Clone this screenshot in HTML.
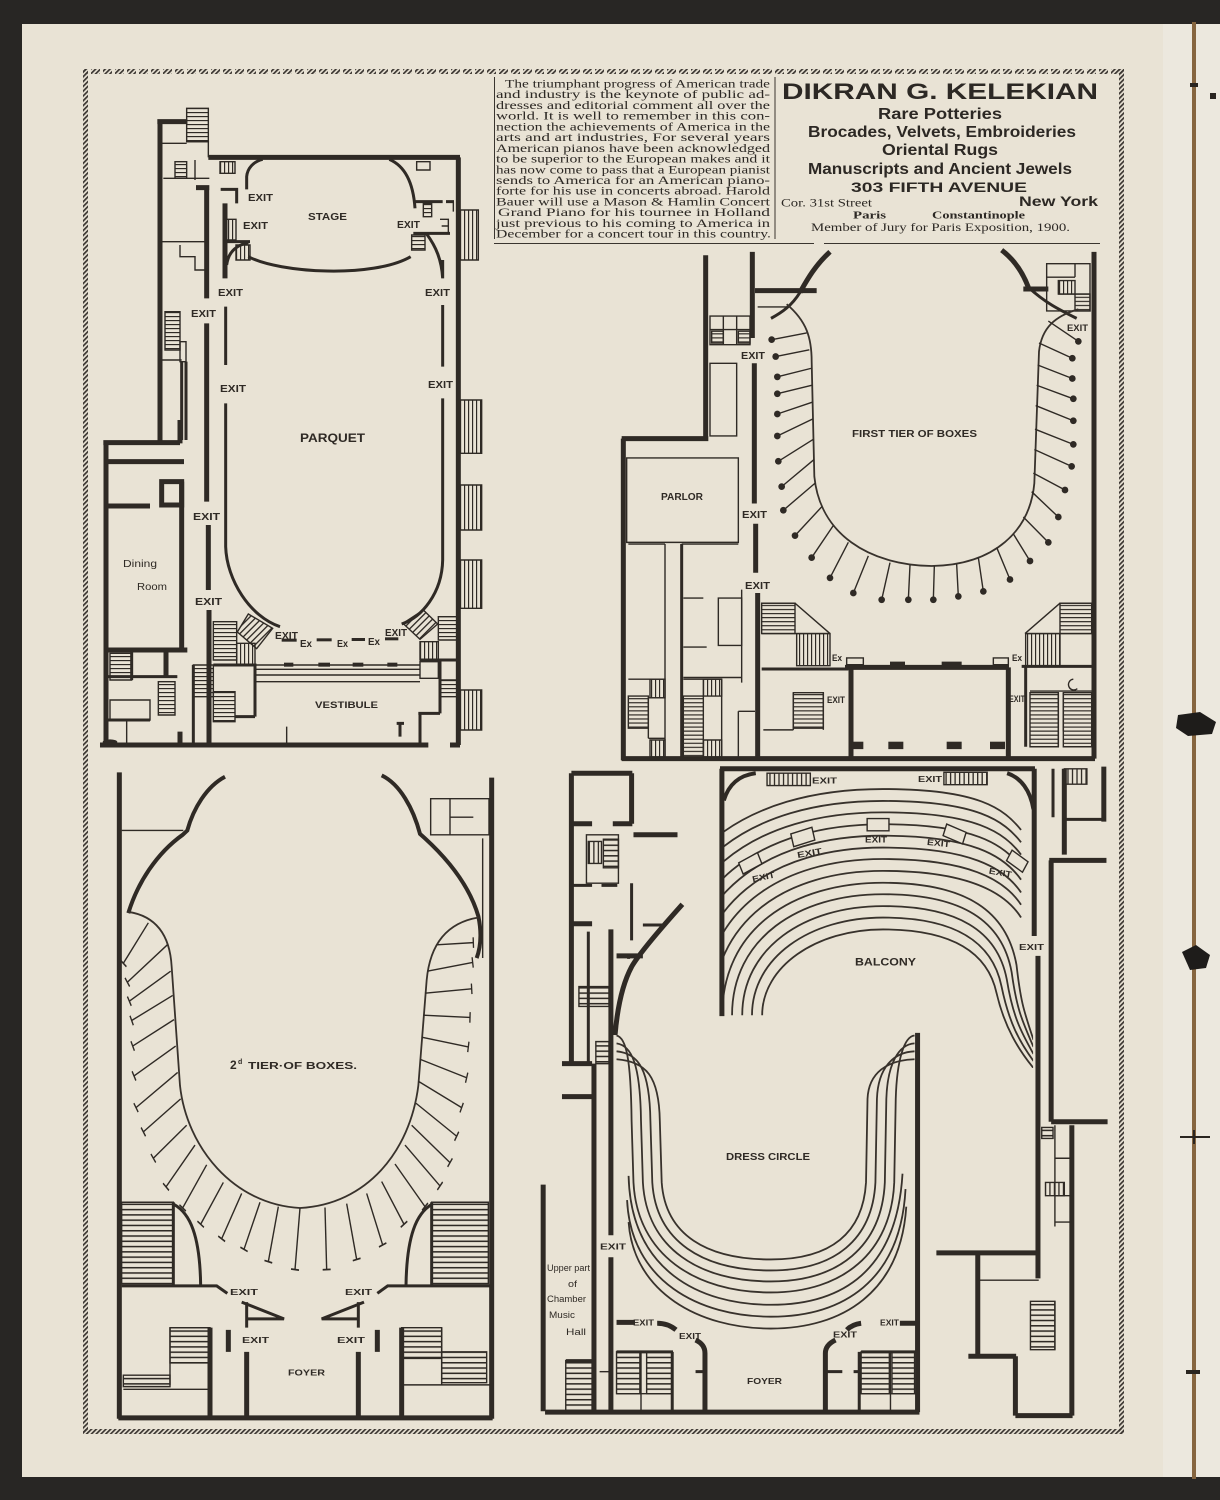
<!DOCTYPE html>
<html><head><meta charset="utf-8">
<style>
html,body{margin:0;padding:0;background:#282624;}
svg{display:block}
path,line,rect,polygon,ellipse,circle,polyline{vector-effect:non-scaling-stroke}
.t{fill:none;stroke:#2f2a25;stroke-width:5}
.m{fill:none;stroke:#2f2a25;stroke-width:3}
.n{fill:none;stroke:#2f2a25;stroke-width:1.4}
.r{fill:none;stroke:#38322c;stroke-width:1.8}
.sh{fill:url(#sh);stroke:#2f2a25;stroke-width:1.4}
.sv{fill:url(#sv);stroke:#2f2a25;stroke-width:1.4}
.sd{fill:url(#sd);stroke:#2f2a25;stroke-width:1.4}
.f{fill:#2f2a25}
.lab{font-family:"Liberation Sans",sans-serif;font-weight:bold;font-size:10.5px;fill:#2f2a25}
.sm{font-size:8.5px}
.ser{font-family:"Liberation Serif",serif;font-size:12px;fill:#2c2824}
.gb{font-family:"Liberation Sans Narrow","Liberation Sans",sans-serif;font-weight:bold;fill:#2c2824}
</style></head>
<body>
<svg width="1220" height="1500" viewBox="0 0 1220 1500" xmlns="http://www.w3.org/2000/svg">
<defs>
<pattern id="sh" width="10" height="12" patternUnits="userSpaceOnUse"><rect width="10" height="3.5" fill="#2f2a25"/></pattern>
<pattern id="sv" width="12" height="10" patternUnits="userSpaceOnUse"><rect width="3.5" height="10" fill="#2f2a25"/></pattern>
<pattern id="sd" width="14" height="14" patternUnits="userSpaceOnUse" patternTransform="rotate(45)"><rect width="4" height="14" fill="#2f2a25"/></pattern>
<pattern id="fr" width="3.4" height="3.4" patternUnits="userSpaceOnUse" patternTransform="rotate(45)"><rect width="1.7" height="3.4" fill="#3b3631"/></pattern>
<marker id="tk" markerUnits="userSpaceOnUse" markerWidth="40" markerHeight="40" viewBox="-20 -20 40 40" refX="0" refY="0" orient="auto"><path d="M0,-12 V12" stroke="#2f2a25" stroke-width="4" fill="none"/></marker>
<clipPath id="bc"><rect x="515" y="25" width="822" height="675"/></clipPath>
</defs>

<!-- page -->
<rect x="0" y="0" width="1220" height="1500" fill="#282624"/>
<rect x="22" y="24" width="1198" height="1453" fill="#e9e3d5"/>
<rect x="1163" y="24" width="57" height="1453" fill="#ece8de"/>
<rect x="1192" y="22" width="4" height="1457" fill="#86653f"/>
<path d="M1178,715 L1200,712 L1216,722 L1212,734 L1188,736 L1176,728Z" fill="#1e1c1a"/>
<path d="M1182,952 L1196,945 L1210,955 L1206,968 L1190,970Z" fill="#1e1c1a"/>
<path d="M1180,1137 H1210 M1194,1130 V1144" stroke="#2a2520" stroke-width="2"/>
<rect x="1186" y="1370" width="14" height="4" fill="#2a2520"/>
<rect x="1190" y="83" width="8" height="4" fill="#2a2520"/>
<rect x="1210" y="93" width="6" height="6" fill="#2a2520"/>

<!-- frame -->
<rect x="83" y="69" width="1041" height="5" fill="url(#fr)"/>
<line x1="88" y1="71.5" x2="1119" y2="71.5" stroke="#e9e3d5" stroke-width="6" stroke-dasharray="3 9"/>
<rect x="83" y="1429" width="1041" height="5" fill="url(#fr)"/>
<rect x="83" y="69" width="5" height="1365" fill="url(#fr)"/>
<rect x="1119" y="69" width="5" height="1365" fill="url(#fr)"/>

<!-- ad: text column -->
<line x1="494.5" y1="77" x2="494.5" y2="239" stroke="#3a352f" stroke-width="1"/>
<line x1="775" y1="77" x2="775" y2="239" stroke="#3a352f" stroke-width="1"/>
<line x1="494" y1="243.5" x2="814" y2="243.5" stroke="#3a352f" stroke-width="1"/>
<line x1="824" y1="243.5" x2="1100" y2="243.5" stroke="#3a352f" stroke-width="1"/>
<g class="ser">
<text x="505" y="87.5" textLength="265" lengthAdjust="spacingAndGlyphs">The triumphant progress of American trade</text>
<text x="496" y="98.2" textLength="274" lengthAdjust="spacingAndGlyphs">and industry is the keynote of public ad-</text>
<text x="496" y="108.9" textLength="274" lengthAdjust="spacingAndGlyphs">dresses and editorial comment all over the</text>
<text x="496" y="119.7" textLength="274" lengthAdjust="spacingAndGlyphs">world. It is well to remember in this con-</text>
<text x="496" y="130.4" textLength="274" lengthAdjust="spacingAndGlyphs">nection the achievements of America in the</text>
<text x="496" y="141.1" textLength="274" lengthAdjust="spacingAndGlyphs">arts and art industries, For several years</text>
<text x="496" y="151.8" textLength="274" lengthAdjust="spacingAndGlyphs">American pianos have been acknowledged</text>
<text x="496" y="162.5" textLength="274" lengthAdjust="spacingAndGlyphs">to be superior to the European makes and it</text>
<text x="496" y="173.3" textLength="274" lengthAdjust="spacingAndGlyphs">has now come to pass that a European pianist</text>
<text x="496" y="184.0" textLength="274" lengthAdjust="spacingAndGlyphs">sends to America for an American piano-</text>
<text x="496" y="194.7" textLength="274" lengthAdjust="spacingAndGlyphs">forte for his use in concerts abroad. Harold</text>
<text x="496" y="205.4" textLength="274" lengthAdjust="spacingAndGlyphs">Bauer will use a Mason &amp; Hamlin Concert</text>
<text x="498" y="216.1" textLength="272" lengthAdjust="spacingAndGlyphs">Grand Piano for his tournee in Holland</text>
<text x="496" y="226.9" textLength="274" lengthAdjust="spacingAndGlyphs">just previous to his coming to America in</text>
<text x="496" y="237.6" textLength="275" lengthAdjust="spacingAndGlyphs">December for a concert tour in this country.</text>
</g>
<!-- ad right -->
<text x="782" y="99" textLength="316" lengthAdjust="spacingAndGlyphs" style="font-family:'Liberation Sans',sans-serif;font-weight:bold;font-size:22px;fill:#2c2824">DIKRAN G. KELEKIAN</text>
<text class="gb" x="878" y="119" font-size="16" textLength="124" lengthAdjust="spacingAndGlyphs">Rare Potteries</text>
<text class="gb" x="808" y="137" font-size="16" textLength="268" lengthAdjust="spacingAndGlyphs">Brocades, Velvets, Embroideries</text>
<text class="gb" x="882" y="155" font-size="16" textLength="116" lengthAdjust="spacingAndGlyphs">Oriental Rugs</text>
<text class="gb" x="808" y="174" font-size="16" textLength="264" lengthAdjust="spacingAndGlyphs">Manuscripts and Ancient Jewels</text>
<text x="851" y="192" textLength="176" lengthAdjust="spacingAndGlyphs" style="font-family:'Liberation Sans',sans-serif;font-weight:bold;font-size:14px;fill:#2c2824">303 FIFTH AVENUE</text>
<text class="ser" x="781" y="206.5" textLength="91" lengthAdjust="spacingAndGlyphs">Cor. 31st Street</text>
<text x="1019" y="206" textLength="79" lengthAdjust="spacingAndGlyphs" style="font-family:'Liberation Sans',sans-serif;font-weight:bold;font-size:13.5px;fill:#2c2824">New York</text>
<text x="853" y="218.5" textLength="33" lengthAdjust="spacingAndGlyphs" style="font-family:'Liberation Serif',serif;font-weight:bold;font-size:11px;fill:#2c2824">Paris</text>
<text x="932" y="218.5" textLength="93" lengthAdjust="spacingAndGlyphs" style="font-family:'Liberation Serif',serif;font-weight:bold;font-size:11px;fill:#2c2824">Constantinople</text>
<text class="ser" x="811" y="231" font-size="11.5" textLength="259" lengthAdjust="spacingAndGlyphs">Member of Jury for Paris Exposition, 1900.</text>

<!-- ============ PLAN 1 : PARQUET ============ -->
<g transform="translate(80,60) scale(0.333333)">
<path class="t" d="M240,183 V1150 M232,185 H322 M385,292 H1140 M1135,292 V2055 M380,380 V715 M348,383 H388 M380,790 V1325 M385,1395 V1590 M387,1650 V2055 M435,430 V655 M70,1148 H300 M78,1148 V2055 M300,1080 V1150 M85,1205 H312 M305,1265 V1772 M85,1338 H210 M78,1770 H322 M258,1770 V1850 M300,2015 V2055 M60,2055 H1045 M1110,2055 H1140"/>
<rect class="t" x="245" y="1265" width="60" height="70"/>
<path class="m" d="M500,388 V350 C502,325 520,305 548,298 M928,298 C975,318 1000,370 1005,445 M505,590 C600,640 880,655 992,590 M430,545 H510 M440,615 C445,575 470,555 505,548 M422,388 H470 V430 M1005,425 H1088 M1098,425 H1122 M1000,520 H1110 M1040,522 C1068,560 1085,600 1088,655 M437,1030 V1460 C440,1560 510,1670 600,1700 M1088,1015 V1500 C1086,1600 1025,1672 965,1692 M437,740 V915 M1088,735 V920 M1088,600 V655 M400,1815 H525 V1970 M465,1970 H525 M1020,1800 H1135 M1080,1800 V1960 M1015,1960 H1080 M1020,1960 V2055 M960,1990 V2030 M950,1990 H972 M155,1770 V1860 M85,1850 H292 M85,1980 H210 M340,1815 V2055 M305,905 V1140 M318,905 V1140"/>
<path class="n" d="M240,250 H320 M250,355 H388 M345,300 V360 M240,545 H385 M300,555 V590 H345 V630 H385 M240,900 H305 M1120,425 V455 M1080,478 H1105 V518 M1085,498 H1105 M620,2000 V2055 M140,1980 V2055 M320,245 H385 V292"/>
<rect class="n" x="1010" y="305" width="40" height="25"/>
<rect class="sh" x="320" y="145" width="65" height="100"/>
<rect class="sh" x="285" y="305" width="35" height="50"/>
<rect class="sv" x="420" y="305" width="45" height="35"/>
<rect class="sh" x="255" y="755" width="45" height="115"/>
<rect class="n" x="300" y="845" width="18" height="60"/>
<rect class="sv" x="438" y="478" width="30" height="62"/>
<rect class="sv" x="468" y="555" width="42" height="45"/>
<rect class="sh" x="1030" y="430" width="25" height="40"/>
<rect class="sh" x="995" y="525" width="40" height="45"/>
<rect class="sv" x="1138" y="450" width="57" height="150"/>
<rect class="sv" x="1138" y="1020" width="67" height="160"/>
<rect class="sv" x="1140" y="1275" width="65" height="135"/>
<rect class="sv" x="1140" y="1500" width="65" height="145"/>
<rect class="sv" x="1140" y="1890" width="65" height="120"/>
<rect class="sh" x="400" y="1685" width="70" height="115"/>
<rect class="sv" x="470" y="1750" width="55" height="65"/>
<rect class="sh" x="1075" y="1670" width="60" height="70"/>
<rect class="sv" x="1020" y="1745" width="55" height="55"/>
<rect class="sh" x="400" y="1895" width="65" height="90"/>
<rect class="sh" x="340" y="1815" width="60" height="95"/>
<rect class="sh" x="1080" y="1860" width="55" height="50"/>
<rect class="n" x="1020" y="1805" width="55" height="50"/>
<rect class="sh" x="90" y="1780" width="65" height="80"/>
<rect class="sh" x="235" y="1865" width="50" height="100"/>
<rect class="n" x="90" y="1920" width="120" height="60"/>
<polygon class="sd" points="505,1662 578,1705 530,1766 472,1716"/>
<polygon class="sd" points="1030,1650 1073,1692 1020,1738 969,1690"/>
<path class="n" d="M525,1815 H1020 M525,1828 H1020 M525,1845 H1020 M525,1865 H1020"/>
<rect class="f" x="612" y="1808" width="28" height="12"/>
<rect class="f" x="715" y="1808" width="35" height="12"/>
<rect class="f" x="818" y="1808" width="32" height="12"/>
<rect class="f" x="922" y="1808" width="30" height="12"/>
<rect class="f" x="605" y="1736" width="45" height="9"/>
<rect class="f" x="710" y="1735" width="45" height="9"/>
<rect class="f" x="815" y="1734" width="40" height="9"/>
<rect class="f" x="915" y="1732" width="40" height="9"/>
<ellipse class="f" cx="90" cy="2046" rx="22" ry="8"/>
</g>
<g class="lab">
<text x="248" y="201" textLength="25" lengthAdjust="spacingAndGlyphs">EXIT</text>
<text x="243" y="229" textLength="25" lengthAdjust="spacingAndGlyphs">EXIT</text>
<text x="308" y="220" textLength="39" lengthAdjust="spacingAndGlyphs">STAGE</text>
<text x="397" y="228" textLength="23" lengthAdjust="spacingAndGlyphs">EXIT</text>
<text x="218" y="296" textLength="25" lengthAdjust="spacingAndGlyphs">EXIT</text>
<text x="425" y="296" textLength="25" lengthAdjust="spacingAndGlyphs">EXIT</text>
<text x="191" y="317" textLength="25" lengthAdjust="spacingAndGlyphs">EXIT</text>
<text x="220" y="392" textLength="26" lengthAdjust="spacingAndGlyphs">EXIT</text>
<text x="428" y="388" textLength="25" lengthAdjust="spacingAndGlyphs">EXIT</text>
<text x="300" y="442" font-size="12" textLength="65" lengthAdjust="spacingAndGlyphs">PARQUET</text>
<text x="193" y="520" textLength="27" lengthAdjust="spacingAndGlyphs">EXIT</text>
<text x="195" y="605" textLength="27" lengthAdjust="spacingAndGlyphs">EXIT</text>
<text x="275" y="639" textLength="23" lengthAdjust="spacingAndGlyphs">EXIT</text>
<text x="300" y="647" textLength="12" lengthAdjust="spacingAndGlyphs">Ex</text>
<text x="337" y="647" textLength="11" lengthAdjust="spacingAndGlyphs">Ex</text>
<text x="368" y="645" textLength="12" lengthAdjust="spacingAndGlyphs">Ex</text>
<text x="385" y="636" textLength="22" lengthAdjust="spacingAndGlyphs">EXIT</text>
<text x="315" y="708" font-size="9.5" textLength="63" lengthAdjust="spacingAndGlyphs">VESTIBULE</text>
<text x="123" y="567" font-weight="normal" textLength="34" lengthAdjust="spacingAndGlyphs">Dining</text>
<text x="137" y="590" font-weight="normal" textLength="30" lengthAdjust="spacingAndGlyphs">Room</text>
</g>

<!-- ============ PLAN 2 : FIRST TIER ============ -->
<g transform="translate(615,240) scale(0.333333,0.337838)">
<path class="t" d="M272,45 V582 M412,35 V290 M418,365 V780 M422,840 V985 M428,1045 V1530 M420,150 H605 M645,35 C600,75 575,120 555,155 M1160,30 C1200,60 1225,100 1240,140 M1225,145 H1300 M1437,35 V1535 M20,588 H280 M25,588 V1540 M20,1535 H1440 M690,1265 H1182 M708,1265 V1530 M1180,1265 V1530"/>
<path class="m" d="M555,155 C530,195 500,215 468,232 M1240,140 C1290,185 1330,205 1385,232 M440,1270 H700 M1220,1262 H1437 M1232,1262 V1500 M200,900 V1530"/>
<rect class="f" x="825" y="1248" width="45" height="17"/>
<rect class="f" x="980" y="1248" width="60" height="17"/>
<rect class="f" x="710" y="1485" width="35" height="22"/>
<rect class="f" x="820" y="1485" width="45" height="22"/>
<rect class="f" x="995" y="1485" width="45" height="22"/>
<rect class="f" x="1125" y="1485" width="45" height="22"/>
<rect class="n" x="695" y="1237" width="50" height="20"/>
<rect class="n" x="1135" y="1237" width="45" height="20"/>
<rect class="n" x="285" y="225" width="120" height="85"/>
<path class="n" d="M285,265 H405 M325,225 V310 M365,225 V310 M428,198 H520 M40,900 H150 M150,900 V1530 M200,900 H370 M205,1060 H265 M205,1205 H275 M380,1035 V1310 M205,1295 H380 M370,1395 H420 M370,1395 V1530 M40,1300 H150 M100,1355 H150 M100,1475 H150 M100,1355 V1475 M205,1300 H320 M320,1300 V1530 M440,1075 H540 L645,1165 M440,1165 H645 M1335,1075 H1435 M1335,1075 L1230,1165 M1230,1165 H1435 M445,1450 H535 M535,1340 V1450 M625,1340 V1450 M1245,1335 H1435 M1330,1340 V1500 M1345,1340 V1455 M1295,110 H1380 M1380,70 V110 M1330,160 H1425 M1375,1300 a16,16 0 1,0 12,28"/>
<rect class="n" x="285" y="365" width="80" height="215"/>
<rect class="n" x="35" y="645" width="335" height="250"/>
<rect class="n" x="310" y="1060" width="70" height="140"/>
<rect class="n" x="1295" y="70" width="130" height="140"/>
<rect class="sh" x="290" y="270" width="35" height="35"/>
<rect class="sh" x="370" y="270" width="35" height="35"/>
<rect class="sh" x="40" y="1350" width="60" height="95"/>
<rect class="sv" x="105" y="1300" width="45" height="55"/>
<rect class="sv" x="105" y="1480" width="45" height="50"/>
<rect class="sh" x="205" y="1350" width="60" height="180"/>
<rect class="sv" x="265" y="1300" width="55" height="50"/>
<rect class="sv" x="265" y="1480" width="55" height="50"/>
<rect class="sh" x="440" y="1075" width="100" height="90"/>
<rect class="sv" x="545" y="1165" width="100" height="95"/>
<rect class="sh" x="1335" y="1075" width="95" height="90"/>
<rect class="sv" x="1232" y="1165" width="103" height="95"/>
<rect class="sh" x="535" y="1340" width="90" height="105"/>
<rect class="sh" x="1245" y="1340" width="85" height="160"/>
<rect class="sh" x="1345" y="1340" width="85" height="160"/>
<rect class="sv" x="1330" y="120" width="50" height="40"/>
<rect class="sh" x="1380" y="160" width="45" height="50"/>
<path class="r" d="M515,190 C575,240 590,290 590,360 L598,700 C615,870 760,962 950,965 C1140,962 1245,860 1258,720 L1272,330 C1280,260 1320,225 1390,205"/>
<path class="n" d="M575,275 L470,295 M583,325 L482,345 M588,380 L487,405 M590,430 L487,455 M592,480 L487,515 M593,530 L487,580 M595,590 L490,655 M597,650 L500,730 M600,720 L505,800 M620,790 L540,875 M655,845 L590,940 M700,895 L645,1000 M760,935 L715,1045 M825,955 L800,1065 M885,962 L880,1065 M958,965 L955,1065 M1025,960 L1030,1055 M1090,940 L1105,1040 M1145,910 L1185,1005 M1195,870 L1245,950 M1225,820 L1300,895 M1250,745 L1330,820 M1255,690 L1350,740 M1258,620 L1370,670 M1260,560 L1375,605 M1262,490 L1375,535 M1265,430 L1375,470 M1268,370 L1372,410 M1272,305 L1372,350 M1300,240 L1390,300"/>
<g class="f">
<circle cx="470" cy="295" r="10"/><circle cx="482" cy="345" r="10"/><circle cx="487" cy="405" r="10"/><circle cx="487" cy="455" r="10"/><circle cx="487" cy="515" r="10"/><circle cx="487" cy="580" r="10"/><circle cx="490" cy="655" r="10"/><circle cx="500" cy="730" r="10"/><circle cx="505" cy="800" r="10"/><circle cx="540" cy="875" r="10"/><circle cx="590" cy="940" r="10"/><circle cx="645" cy="1000" r="10"/><circle cx="715" cy="1045" r="10"/><circle cx="800" cy="1065" r="10"/><circle cx="880" cy="1065" r="10"/><circle cx="955" cy="1065" r="10"/><circle cx="1030" cy="1055" r="10"/><circle cx="1105" cy="1040" r="10"/><circle cx="1185" cy="1005" r="10"/><circle cx="1245" cy="950" r="10"/><circle cx="1300" cy="895" r="10"/><circle cx="1330" cy="820" r="10"/><circle cx="1350" cy="740" r="10"/><circle cx="1370" cy="670" r="10"/><circle cx="1375" cy="605" r="10"/><circle cx="1375" cy="535" r="10"/><circle cx="1375" cy="470" r="10"/><circle cx="1372" cy="410" r="10"/><circle cx="1372" cy="350" r="10"/><circle cx="1390" cy="300" r="10"/>
</g>
</g>
<g class="lab">
<text x="741" y="359" textLength="24" lengthAdjust="spacingAndGlyphs">EXIT</text>
<text x="742" y="518" textLength="25" lengthAdjust="spacingAndGlyphs">EXIT</text>
<text x="745" y="589" textLength="25" lengthAdjust="spacingAndGlyphs">EXIT</text>
<text x="1067" y="331" font-size="9" textLength="21" lengthAdjust="spacingAndGlyphs">EXIT</text>
<text x="661" y="500" font-size="10" textLength="42" lengthAdjust="spacingAndGlyphs">PARLOR</text>
<text x="852" y="437" font-size="10" textLength="125" lengthAdjust="spacingAndGlyphs">FIRST  TIER  OF  BOXES</text>
<text x="832" y="661" font-size="9" textLength="10" lengthAdjust="spacingAndGlyphs">Ex</text>
<text x="1012" y="661" font-size="9" textLength="10" lengthAdjust="spacingAndGlyphs">Ex</text>
<text x="827" y="703" font-size="9" textLength="18" lengthAdjust="spacingAndGlyphs">EXIT</text>
<text x="1009" y="702" font-size="9" textLength="16" lengthAdjust="spacingAndGlyphs">EXIT</text>
</g>

<!-- ============ PLAN 3 : 2nd TIER ============ -->
<g transform="translate(90,760) scale(0.333333,0.440051)">
<path class="t" d="M88,28 V1497 M1205,40 V1497 M85,1495 H1208 M470,1345 V1495 M805,1345 V1495 M415,1295 V1345 M862,1295 V1345 M360,1290 V1495 M935,1290 V1495"/>
<path class="m" style="stroke-width:4" d="M405,38 C350,60 310,110 292,160 L278,170 C200,212 142,280 115,348 M875,35 C930,55 970,110 990,168 L1005,178 C1080,230 1140,290 1165,355 C1176,395 1172,425 1160,450"/>
<path class="m" d="M95,1195 H380 L412,1212 M1205,1195 H893 L862,1212 M455,1232 L582,1270 H470 M470,1232 V1290 M822,1232 L695,1270 H805 M805,1232 V1290 M250,1005 V1195 M252,1010 C300,1030 330,1080 332,1195 M1025,1005 V1195 M1025,1010 C980,1030 950,1080 948,1195"/>
<path class="n" d="M95,160 H280 M1080,88 V170 M1080,130 H1150 M1178,178 V450 M240,1290 H360 M240,1290 V1420 M100,1430 H360 M935,1420 H1200 M1055,1290 V1420"/>
<rect class="n" x="1022" y="88" width="175" height="82"/>
<rect class="sh" x="95" y="1005" width="155" height="185"/>
<rect class="sh" x="1025" y="1005" width="170" height="185"/>
<rect class="sh" x="240" y="1290" width="120" height="80"/>
<rect class="sh" x="100" y="1398" width="140" height="26"/>
<rect class="sh" x="935" y="1290" width="120" height="70"/>
<rect class="sh" x="1055" y="1345" width="135" height="70"/>
<path class="r" d="M115,345 C200,355 240,400 245,470 L270,740 C290,880 430,1010 630,1018 C830,1010 960,890 985,740 L1010,500 C1020,420 1070,370 1165,358"/>
<g class="n" marker-end="url(#tk)">
<path d="M175,370 L100,462"/><path d="M232,420 L112,505"/><path d="M242,480 L118,548"/><path d="M248,535 L125,592"/><path d="M252,590 L128,650"/><path d="M257,650 L132,718"/><path d="M263,710 L138,790"/><path d="M272,770 L160,845"/><path d="M290,830 L190,905"/><path d="M315,875 L228,970"/><path d="M350,920 L278,1018"/><path d="M400,960 L332,1055"/>
<path d="M455,985 L395,1088"/><path d="M510,1005 L462,1112"/><path d="M565,1015 L535,1140"/><path d="M630,1018 L615,1158"/><path d="M705,1017 L710,1158"/><path d="M770,1008 L800,1135"/><path d="M830,985 L878,1102"/><path d="M875,958 L942,1055"/>
<path d="M915,918 L1005,1015"/><path d="M945,875 L1050,968"/><path d="M965,830 L1080,915"/><path d="M978,780 L1100,855"/><path d="M985,730 L1115,790"/><path d="M990,680 L1130,722"/><path d="M995,630 L1135,652"/><path d="M1000,580 L1140,585"/><path d="M1005,530 L1145,520"/><path d="M1012,480 L1148,460"/><path d="M1040,420 L1150,415"/>
</g>
</g>
<g class="lab">
<text x="230" y="1069" font-size="12">2</text>
<text x="238" y="1064" font-size="7">d</text>
<text x="248" y="1069" font-size="10.5" textLength="109" lengthAdjust="spacingAndGlyphs">TIER·OF BOXES.</text>
<text class="sm" x="230" y="1295" textLength="28" lengthAdjust="spacingAndGlyphs">EXIT</text>
<text class="sm" x="345" y="1295" textLength="27" lengthAdjust="spacingAndGlyphs">EXIT</text>
<text class="sm" x="242" y="1343" textLength="27" lengthAdjust="spacingAndGlyphs">EXIT</text>
<text class="sm" x="337" y="1343" textLength="28" lengthAdjust="spacingAndGlyphs">EXIT</text>
<text class="sm" x="288" y="1375.5" textLength="37" lengthAdjust="spacingAndGlyphs">FOYER</text>
</g>

<!-- ============ PLAN 4 : BALCONY / DRESS CIRCLE ============ -->
<g transform="translate(530,760) scale(0.376276,0.440051)">
<g clip-path="url(#bc)" class="r">
<path d="M617,580 C617,470 760,385 938,385 C1110,385 1215,430 1240,530 C1262,610 1300,660 1338,700"/>
<path d="M590,580 C590,449 744,358 938,358 C1123,358 1228,409 1253,514 C1273,597 1300,639 1338,684"/>
<path d="M564,580 C564,428 728,332 938,332 C1137,332 1242,388 1267,498 C1283,583 1305,618 1338,668"/>
<path d="M537,580 C537,406 712,305 938,305 C1150,305 1255,366 1280,482 C1294,570 1310,596 1338,652"/>
<path d="M511,580 C511,385 696,279 938,279 C1163,279 1268,345 1293,466 C1305,557 1315,575 1338,636"/>
<path d="M484,580 C484,364 680,252 938,252 C1157,252 1260,297 1305,358"/>
<path d="M457,580 C457,342 664,225 938,225 C1162,225 1260,270 1305,329"/>
<path d="M431,580 C431,321 648,199 938,199 C1167,199 1260,244 1305,301"/>
<path d="M404,580 C404,300 632,172 938,172 C1173,172 1260,217 1305,272"/>
<path d="M378,580 C378,279 616,146 938,146 C1178,146 1260,191 1305,244"/>
<path d="M351,580 C351,257 600,119 938,119 C1183,119 1260,164 1305,215"/>
<path d="M325,580 C325,236 584,93 938,93 C1189,93 1260,138 1305,187"/>
<path d="M298,580 C298,215 569,66 938,66 C1194,66 1260,111 1305,159"/>
</g>
<path class="t" d="M505,20 H1342 M510,20 V582 M1340,20 V400 M1350,445 V1178"/>
<path class="m" style="stroke-width:4" d="M515,92 C528,55 555,35 600,30 M1268,30 C1305,40 1330,70 1338,112"/>
<rect class="sv" x="630" y="30" width="115" height="28"/>
<rect class="sv" x="1100" y="28" width="115" height="28"/>
<g fill="#e9e3d5" stroke="#2f2a25" stroke-width="1.4">
<rect x="-27" y="-14" width="55" height="28" transform="translate(585,235) rotate(-25)"/>
<rect x="-29" y="-15" width="58" height="30" transform="translate(725,175) rotate(-15)"/>
<rect x="-29" y="-14" width="58" height="28" transform="translate(925,147)"/>
<rect x="-27" y="-14" width="55" height="28" transform="translate(1128,168) rotate(20)"/>
<rect x="-25" y="-14" width="50" height="28" transform="translate(1295,230) rotate(32)"/>
</g>
<!-- left building -->
<path class="t" d="M110,30 H272 M110,30 V690 M270,30 V145 M110,145 H165 M220,145 H272 M275,170 H392 M110,372 H165 M215,385 V1080 M215,1130 V1480 M230,445 H300 M405,328 C340,390 290,440 270,470 C245,510 232,565 226,625 M85,690 H165 M85,765 H165 M170,690 V1480 M35,965 V1480 M40,1482 H1035"/>
<path class="m" d="M110,285 H165 M190,285 H232 M270,280 V410 M300,375 H355 M155,390 V690 M95,1365 H165 M262,440 V452"/>
<path class="n" d="M185,1390 H215"/>
<rect class="n" x="150" y="170" width="85" height="110"/>
<rect class="sh" x="195" y="180" width="40" height="65"/>
<rect class="sv" x="155" y="185" width="35" height="50"/>
<rect class="sh" x="130" y="515" width="80" height="45"/>
<rect class="sh" x="175" y="640" width="35" height="50"/>
<rect class="sh" x="95" y="1365" width="70" height="115"/>
<!-- dress circle -->
<path class="t" d="M1030,620 V1482 M230,1278 H278 M338,1280 C360,1280 375,1286 388,1295 M440,1318 C458,1325 465,1335 465,1348 V1482 M1025,1280 H983 M880,1280 C862,1282 850,1288 842,1295 M812,1318 C795,1325 785,1335 785,1348 V1482"/>
<g class="r">
<path d="M230,680 C310,685 343,720 345,820 L350,960 C360,1080 470,1135 640,1135 C800,1135 885,1075 893,960 L897,770 C900,710 950,682 1022,680"/>
<path d="M230,662 C290,667 318,705 320,820 L325,960 C335,1095 460,1160 640,1160 C810,1160 910,1090 918,960 L922,770 C925,700 965,664 1022,662"/>
<path d="M230,644 C270,649 293,690 295,820 L300,960 C310,1110 450,1185 640,1185 C820,1185 935,1105 943,960 L947,770 C950,690 980,646 1022,644"/>
<path d="M230,626 C255,631 268,675 270,820 L275,960 C285,1125 440,1210 640,1210 C830,1210 960,1120 968,960 L972,770 C975,680 995,628 1022,626"/>
<path d="M262,945 C268,1160 450,1238 640,1238 C830,1238 975,1160 990,940"/>
<path d="M258,1000 C268,1185 450,1265 640,1265 C830,1265 985,1185 998,975"/>
<path d="M262,1050 C275,1210 450,1292 640,1292 C830,1292 985,1210 1000,1015"/>
</g>
<path class="m" d="M230,1345 H380 M378,1345 V1482 M440,1390 H462 M785,1390 H830 M860,1390 H880 M880,1345 H1025 M875,1345 V1482"/>
<path class="n" d="M295,1345 V1482 M230,1440 H378 M958,1345 V1482 M880,1440 H1025"/>
<rect class="sh" x="230" y="1345" width="62" height="95"/>
<rect class="sh" x="310" y="1345" width="68" height="95"/>
<rect class="sh" x="880" y="1345" width="75" height="95"/>
<rect class="sh" x="962" y="1345" width="60" height="95"/>
<!-- right building -->
<path class="t" d="M1420,20 V215 M1525,15 V140 M1380,228 H1532 M1385,228 V822 M1385,822 H1535 M1440,830 V1490 M1080,1120 H1352 M1190,1122 V1358 M1165,1355 H1292 M1290,1355 V1490 M1290,1490 H1442"/>
<path class="m" d="M1390,20 V130 M1420,135 H1528"/>
<path class="n" d="M1395,830 V1060 M1395,905 H1440 M1395,990 H1440 M1395,1050 H1440 M1190,1182 H1352 M1395,1230 V1340"/>
<rect class="sv" x="1420" y="20" width="60" height="35"/>
<rect class="sh" x="1360" y="835" width="30" height="25"/>
<rect class="sv" x="1370" y="960" width="50" height="30"/>
<rect class="sh" x="1330" y="1230" width="65" height="110"/>
</g>
<g class="lab sm">
<text x="812" y="783.5" textLength="25" lengthAdjust="spacingAndGlyphs">EXIT</text>
<text x="918" y="782" textLength="24" lengthAdjust="spacingAndGlyphs">EXIT</text>
<text x="752" y="880" textLength="23" lengthAdjust="spacingAndGlyphs" transform="rotate(-12 763 877)">EXIT</text>
<text x="797" y="856" textLength="25" lengthAdjust="spacingAndGlyphs" transform="rotate(-10 809 853)">EXIT</text>
<text x="865" y="842.5" textLength="22" lengthAdjust="spacingAndGlyphs">EXIT</text>
<text x="927" y="846" textLength="23" lengthAdjust="spacingAndGlyphs" transform="rotate(6 938 843)">EXIT</text>
<text x="989" y="875.5" textLength="23" lengthAdjust="spacingAndGlyphs" transform="rotate(10 1000 872)">EXIT</text>
<text x="1019" y="950" textLength="25" lengthAdjust="spacingAndGlyphs">EXIT</text>
<text x="855" y="965.5" font-size="11" textLength="61" lengthAdjust="spacingAndGlyphs">BALCONY</text>
<text x="726" y="1160" font-size="10.5" textLength="84" lengthAdjust="spacingAndGlyphs">DRESS CIRCLE</text>
<text x="600" y="1249.5" textLength="26" lengthAdjust="spacingAndGlyphs">EXIT</text>
<text x="633" y="1325.5" textLength="21" lengthAdjust="spacingAndGlyphs">EXIT</text>
<text x="679" y="1339" textLength="22" lengthAdjust="spacingAndGlyphs">EXIT</text>
<text x="833" y="1337.5" textLength="24" lengthAdjust="spacingAndGlyphs">EXIT</text>
<text x="880" y="1325.5" textLength="19" lengthAdjust="spacingAndGlyphs">EXIT</text>
<text x="747" y="1384" textLength="35" lengthAdjust="spacingAndGlyphs">FOYER</text>
</g>
<g style="font-family:'Liberation Sans',sans-serif;font-size:9px;fill:#2f2a25">
<text x="547" y="1271" textLength="43" lengthAdjust="spacingAndGlyphs">Upper part</text>
<text x="568" y="1287" textLength="9" lengthAdjust="spacingAndGlyphs">of</text>
<text x="547" y="1302" textLength="39" lengthAdjust="spacingAndGlyphs">Chamber</text>
<text x="549" y="1318" textLength="26" lengthAdjust="spacingAndGlyphs">Music</text>
<text x="566" y="1335" textLength="20" lengthAdjust="spacingAndGlyphs">Hall</text>
</g>
</svg>
</body></html>
